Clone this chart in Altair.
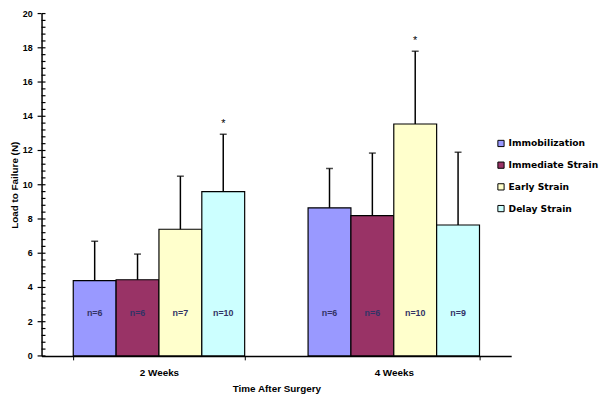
import altair as alt
import pandas as pd

groups = ["2 Weeks", "4 Weeks"]
series = ["Immobilization", "Immediate Strain", "Early Strain", "Delay Strain"]
colors = ["#9999FF", "#993366", "#FFFFCC", "#CCFFFF"]
means_2w = [4.4, 4.45, 7.4, 9.6]
upper_2w = [6.7, 5.95, 10.5, 12.95]
means_4w = [8.65, 8.2, 13.55, 7.65]
upper_4w = [10.95, 11.85, 17.8, 11.9]
n_2w = ["n=6", "n=6", "n=7", "n=10"]
n_4w = ["n=6", "n=6", "n=10", "n=9"]
star_2w = ["", "", "", "*"]
star_4w = ["", "", "*", ""]
n_label_y = 2.5
major_ticks = [0, 2, 4, 6, 8, 10, 12, 14, 16, 18, 20]
minor_ticks = [0.0, 0.4, 0.8, 1.2, 1.6, 2.0, 2.4, 2.8, 3.2, 3.6, 4.0, 4.4, 4.8, 5.2, 5.6,
               6.0, 6.4, 6.8, 7.2, 7.6, 8.0, 8.4, 8.8, 9.2, 9.6, 10.0, 10.4, 10.8, 11.2,
               11.6, 12.0, 12.4, 12.8, 13.2, 13.6, 14.0, 14.4, 14.8, 15.2, 15.6, 16.0,
               16.4, 16.8, 17.2, 17.6, 18.0, 18.4, 18.8, 19.2, 19.6, 20.0]

rows = []
for g, ms, us, ns, ss in [(groups[0], means_2w, upper_2w, n_2w, star_2w),
                          (groups[1], means_4w, upper_4w, n_4w, star_4w)]:
    for s, m, u, n, st in zip(series, ms, us, ns, ss):
        rows.append({"group": g, "series": s, "mean": m, "upper": u,
                     "n": n, "star": st, "ny": n_label_y})
df = pd.DataFrame(rows)
df_minor = pd.DataFrame({"t": minor_ticks})
df_major = pd.DataFrame({"t": major_ticks, "lab": [str(v) for v in major_ticks]})

FONT = "Arial"
H = 347

x = alt.X("group:N", sort=groups, title="Time After Surgery",
          scale=alt.Scale(paddingInner=0.27, paddingOuter=0.135),
          axis=alt.Axis(labelAngle=0, tickBand="extent", tickSize=4,
                        labelPadding=8, titlePadding=6,
                        labelFont=FONT, labelFontWeight="bold", labelFontSize=10,
                        titleFont=FONT, titleFontWeight="bold", titleFontSize=10,
                        labelColor="black", titleColor="black",
                        domainColor="black", tickColor="black", domainWidth=1.5))
xo = alt.XOffset("series:N", sort=series, scale=alt.Scale(paddingInner=0, paddingOuter=0))

y_axis = alt.Axis(labels=False, ticks=False, grid=False, title="Load to Failure (N)",
                  titleFont=FONT, titleFontWeight="bold", titleFontSize=10,
                  titleColor="black", titleAngle=270, titleX=-27, titleY=H / 2,
                  titleAlign="center", titleBaseline="middle",
                  domainColor="black", domainWidth=1.5)
yscale = alt.Scale(domain=[0, 20], nice=False)

base = alt.Chart(df)

bars = base.mark_bar(stroke="black", strokeWidth=1.2).encode(
    x=x, xOffset=xo,
    y=alt.Y("mean:Q", scale=yscale, axis=y_axis),
    color=alt.Color("series:N", sort=series,
                    scale=alt.Scale(domain=series, range=colors),
                    legend=alt.Legend(title=None, orient="none", legendX=461, legendY=127,
                                      symbolType="square", symbolSize=40,
                                      symbolStrokeColor="black", symbolStrokeWidth=1,
                                      labelFont="DejaVu Sans", labelFontWeight="bold",
                                      labelFontSize=9.3, labelColor="black",
                                      rowPadding=11, labelOffset=3, padding=0,
                                      labelLimit=200)),
)

minor = alt.Chart(df_minor).mark_rule(color="black", strokeWidth=1.2).encode(
    y=alt.Y("t:Q", scale=yscale), x=alt.value(0), x2=alt.value(4))

major = alt.Chart(df_major).mark_rule(color="black", strokeWidth=1.2).encode(
    y=alt.Y("t:Q", scale=yscale), x=alt.value(-4), x2=alt.value(0))

ylabels = alt.Chart(df_major).mark_text(font=FONT, fontWeight="bold", fontSize=9,
                                        color="black", align="right", baseline="middle").encode(
    y=alt.Y("t:Q", scale=yscale), x=alt.value(-9), text="lab:N")

err = base.mark_rule(color="black", strokeWidth=1.5).encode(
    x=x, xOffset=xo, y=alt.Y("mean:Q", scale=yscale), y2="upper:Q")

caps = base.mark_tick(color="black", thickness=1.5, size=7).encode(
    x=x, xOffset=xo, y=alt.Y("upper:Q", scale=yscale))

ntext = base.mark_text(font=FONT, fontWeight="bold", fontSize=9, color="#333366").encode(
    x=x, xOffset=xo, y=alt.Y("ny:Q", scale=yscale), text="n:N")

stars = base.mark_text(font=FONT, fontSize=11, color="black", dy=-10, baseline="middle").encode(
    x=x, xOffset=xo, y=alt.Y("upper:Q", scale=yscale), text="star:N")

chart = alt.layer(bars, minor, major, ylabels, err, caps, ntext, stars).properties(
    width=476, height=H,
    autosize=alt.AutoSizeParams(type="none"),
    padding={"left": 34, "top": 3, "right": 90, "bottom": 40},
    background="white",
).configure_view(stroke=None)

chart.save("out.html", embed_options={"renderer": "svg", "actions": False})
